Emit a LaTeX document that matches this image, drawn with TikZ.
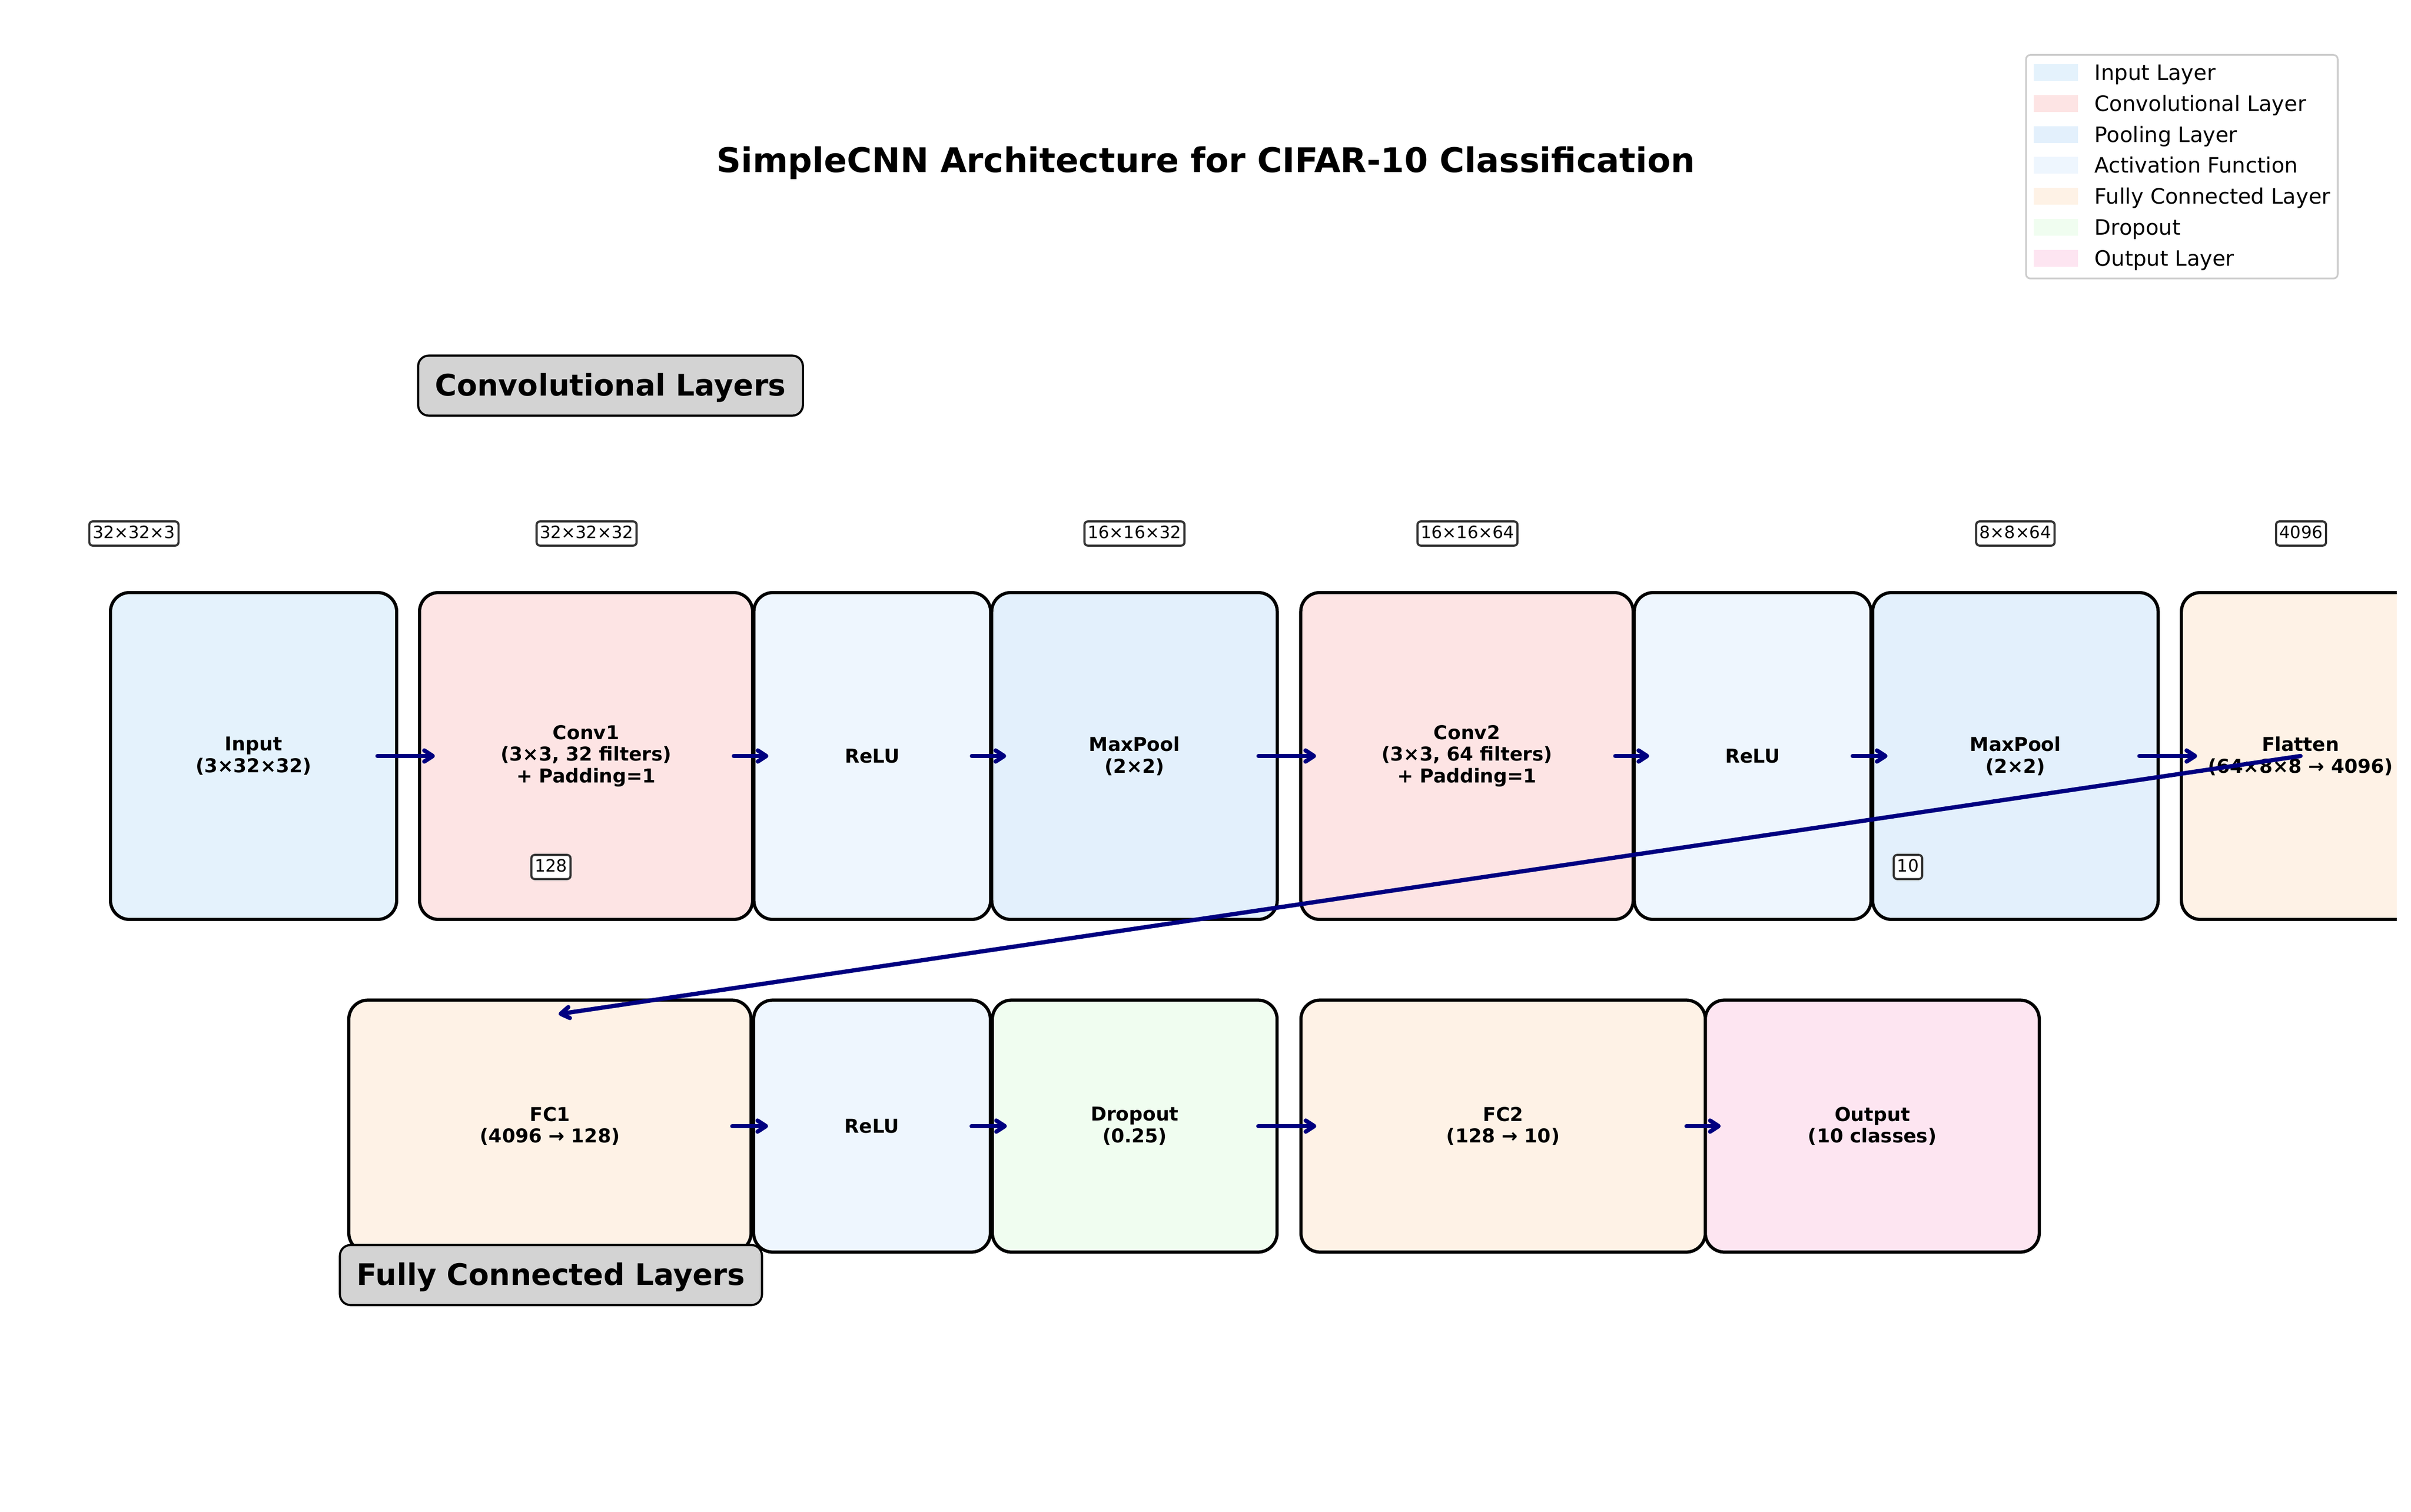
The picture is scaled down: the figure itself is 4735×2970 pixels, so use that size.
\documentclass[tikz,border=0pt]{standalone}
\usepackage{fontspec}
\setmainfont{DejaVu Sans}
\usetikzlibrary{arrows.meta}
\definecolor{cin}{HTML}{E4F2FC}
\definecolor{cconv}{HTML}{FDE4E4}
\definecolor{cpool}{HTML}{E3F0FC}
\definecolor{cact}{HTML}{EEF6FE}
\definecolor{cfc}{HTML}{FEF2E6}
\definecolor{cdrop}{HTML}{F0FDF0}
\definecolor{cout}{HTML}{FDE5F1}
\definecolor{navyc}{HTML}{000080}
\definecolor{secgray}{HTML}{D3D3D3}
\definecolor{legedge}{HTML}{CCCCCC}
\begin{document}
\begin{tikzpicture}[x=0.24pt,y=-0.24pt,
  layer/.style={draw=black, line width=1.5pt, rounded corners=9pt, inner sep=0pt, align=center,
    font=\bfseries\fontsize{9}{10.2}\selectfont},
  toprow/.style={layer, minimum height=154.1pt},
  botrow/.style={layer, minimum height=118.8pt},
  dimlab/.style={draw=black!80, fill=white, line width=1pt, rounded corners=1.6pt,
    inner xsep=1.6pt, inner ysep=1.6pt, text height=6.4pt, text depth=1.8pt,
    font=\fontsize{8}{9.6}\selectfont},
  seclab/.style={draw=black, fill=secgray, line width=1pt, rounded corners=5pt,
    inner xsep=8pt, inner ysep=6pt, text height=13pt, text depth=3.3pt,
    font=\bfseries\fontsize{14}{16.8}\selectfont},
  flow/.style={draw=navyc, line width=2pt, line cap=round,
    -{Straight Barb[length=4pt,width=5.2pt,round]}},
  legpatch/.style={draw=none, inner sep=0pt, minimum width=20.9pt, minimum height=7.9pt},
  legtext/.style={anchor=base west, inner sep=0pt, font=\fontsize{10}{12}\selectfont}
]
\useasboundingbox (0,0) rectangle (4735,2970);

% title
\node[font=\bfseries\fontsize{16}{19}\selectfont, anchor=base, inner sep=0pt] (title) at (2368,339)
  {SimpleCNN Architecture for CIFAR-10 Classification};

% top row
\node[toprow, fill=cin,   minimum width=134.9pt] (in)    at (498,1485)  {Input\\(3×32×32)};
\node[toprow, fill=cconv, minimum width=157.0pt] (conv1) at (1151,1485) {Conv1\\(3×3, 32 filters)\\+ Padding=1};
\node[toprow, fill=cact,  minimum width=111.6pt] (relu1) at (1713,1485) {ReLU};
\node[toprow, fill=cpool, minimum width=134.6pt] (pool1) at (2228,1485) {MaxPool\\(2×2)};
\node[toprow, fill=cconv, minimum width=156.7pt] (conv2) at (2881,1485) {Conv2\\(3×3, 64 filters)\\+ Padding=1};
\node[toprow, fill=cact,  minimum width=111.6pt] (relu2) at (3442,1485) {ReLU};
\node[toprow, fill=cpool, minimum width=134.6pt] (pool2) at (3958,1485) {MaxPool\\(2×2)};
\begin{scope}
\clip (0,0) rectangle (4707,2970);
\node[toprow, fill=cfc,   minimum width=112.3pt] (flat)  at (4518,1485) {Flatten\\(64×8×8 → 4096)};
\end{scope}

% bottom row
\node[botrow, fill=cfc,   minimum width=189.6pt] (fc1)   at (1080,2212)   {FC1\\(4096 → 128)};
\node[botrow, fill=cact,  minimum width=111.6pt] (relu3) at (1712.5,2212) {ReLU};
\node[botrow, fill=cdrop, minimum width=134.2pt] (drop)  at (2228.5,2212) {Dropout\\(0.25)};
\node[botrow, fill=cfc,   minimum width=190.6pt] (fc2)   at (2952,2212)   {FC2\\(128 → 10)};
\node[botrow, fill=cout,  minimum width=157.4pt] (out)   at (3677,2212)   {Output\\(10 classes)};

% flow arrows
\draw[flow] ([xshift=-9.8pt]in.east)    -- ([xshift=8pt]conv1.west);
\draw[flow] ([xshift=-9.6pt]conv1.east) -- ([xshift=7.6pt]relu1.west);
\draw[flow] ([xshift=-9.6pt]relu1.east) -- ([xshift=7.6pt]pool1.west);
\draw[flow] ([xshift=-9.6pt]pool1.east) -- ([xshift=8pt]conv2.west);
\draw[flow] ([xshift=-9.2pt]conv2.east) -- ([xshift=7.8pt]relu2.west);
\draw[flow] ([xshift=-9.4pt]relu2.east) -- ([xshift=7.8pt]pool2.west);
\draw[flow] ([xshift=-9.6pt]pool2.east) -- ([xshift=8.2pt]flat.west);

\draw[flow] ([xshift=-9.6pt]fc1.east)   -- ([xshift=7.6pt]relu3.west);
\draw[flow] ([xshift=-9.6pt]relu3.east) -- ([xshift=7.6pt]drop.west);
\draw[flow] ([xshift=-9.6pt]drop.east)  -- ([xshift=8pt]fc2.west);
\draw[flow] ([xshift=-9.6pt]fc2.east)   -- ([xshift=8pt]out.west);

\coordinate (fcin) at (1097,1992);
\draw[flow] (flat.center) -- (fcin);

% dimension labels
\node[dimlab] (d1) at (263,1048)  {32×32×3};
\node[dimlab] (d2) at (1152,1048) {32×32×32};
\node[dimlab] (d3) at (2228,1048) {16×16×32};
\node[dimlab] (d4) at (2882,1048) {16×16×64};
\node[dimlab] (d5) at (3958,1048) {8×8×64};
\node[dimlab] (d6) at (4519,1048) {4096};
\node[dimlab] (d7) at (1082,1703) {128};
\node[dimlab] (d8) at (3747,1703) {10};

% section labels
\node[seclab] (secconv) at (1199,757.5)  {Convolutional Layers};
\node[seclab] (secfc)   at (1082,2504.5) {Fully Connected Layers};

% legend
\node[draw=legedge, fill=white, line width=0.8pt, rounded corners=2pt,
  minimum width=146.9pt, minimum height=105.4pt, inner sep=0pt] (leg) at (4285,327.5) {};
\node[legpatch, fill=cin]   (lp1) at (4037.5,142.5) {};
\node[legpatch, fill=cconv] (lp2) at (4037.5,203.3) {};
\node[legpatch, fill=cpool] (lp3) at (4037.5,264.1) {};
\node[legpatch, fill=cact]  (lp4) at (4037.5,324.9) {};
\node[legpatch, fill=cfc]   (lp5) at (4037.5,385.7) {};
\node[legpatch, fill=cdrop] (lp6) at (4037.5,446.5) {};
\node[legpatch, fill=cout]  (lp7) at (4037.5,507.3) {};
\node[legtext] (lt1) at (4113,157.5) {Input Layer};
\node[legtext] (lt2) at (4113,218.3) {Convolutional Layer};
\node[legtext] (lt3) at (4113,279.1) {Pooling Layer};
\node[legtext] (lt4) at (4113,339.9) {Activation Function};
\node[legtext] (lt5) at (4113,400.7) {Fully Connected Layer};
\node[legtext] (lt6) at (4113,461.5) {Dropout};
\node[legtext] (lt7) at (4113,522.3) {Output Layer};
\end{tikzpicture}
\end{document}
